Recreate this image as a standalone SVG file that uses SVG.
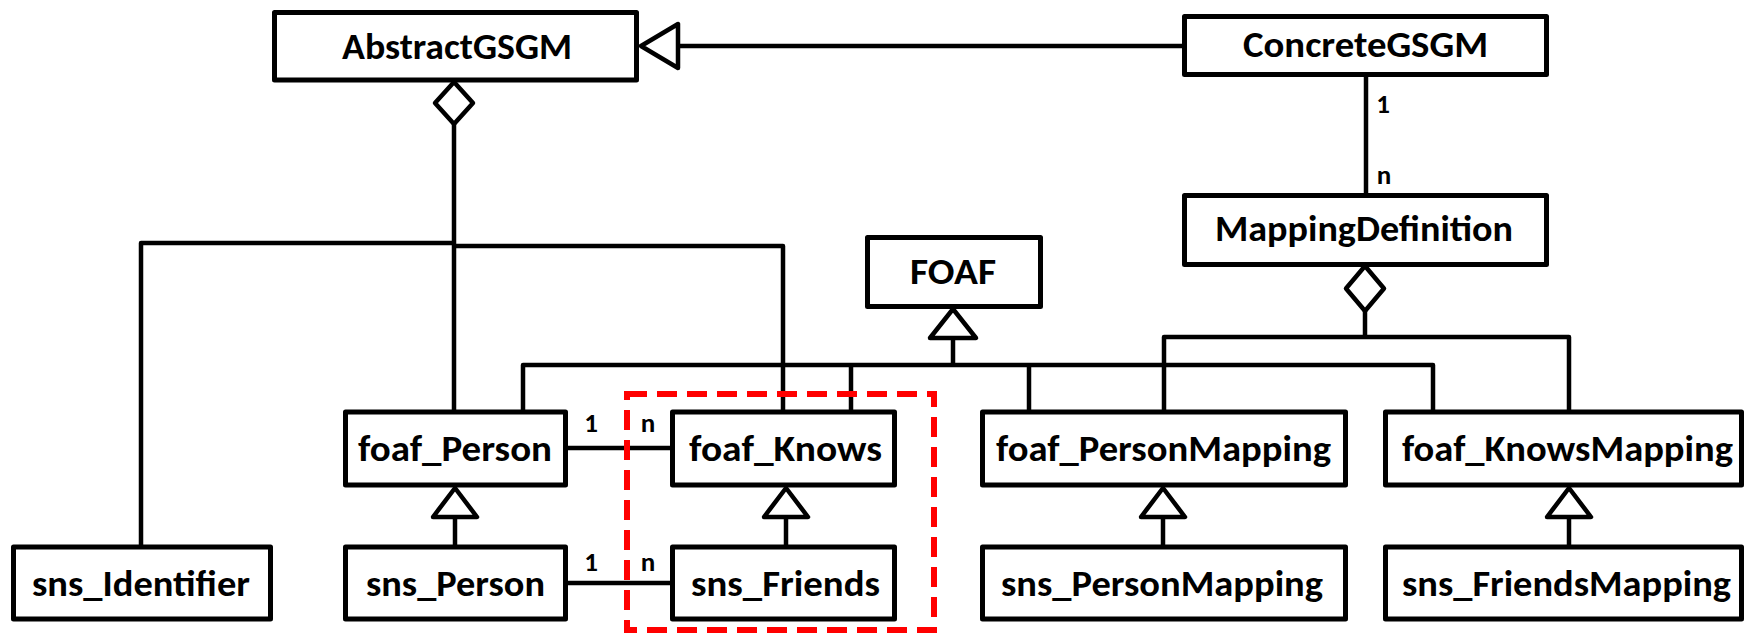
<svg xmlns="http://www.w3.org/2000/svg" width="1744" height="635" viewBox="0 0 1744 635">
  <style>
    .box { fill: #ffffff; stroke: #000000; stroke-width: 5; stroke-linejoin: round; }
    .lbl { font-family: Carlito, Calibri, Lato, "Open Sans", sans-serif; font-weight: bold; font-size: 37px; fill: #000000; text-anchor: middle; }
    .mult { font-family: Carlito, Calibri, Lato, "Open Sans", sans-serif; font-weight: bold; font-size: 27px; fill: #000000; text-anchor: middle; }
    .wire { fill: none; stroke: #000000; stroke-width: 4.5; stroke-linejoin: round; }
    .head { fill: #ffffff; stroke: #000000; stroke-width: 4.5; stroke-linejoin: round; }
    .focus { fill: none; stroke: #ff0000; stroke-width: 6; stroke-dasharray: 20 10; }
  </style>
  <rect width="1744" height="635" fill="#ffffff"/>

  <g id="connectors">
    <!-- ConcreteGSGM generalises AbstractGSGM -->
    <line class="wire" x1="1184" y1="46" x2="678" y2="46"/>
    <polygon class="head" points="641,46 678,24 678,68"/>

    <!-- ConcreteGSGM 1 - n MappingDefinition -->
    <line class="wire" x1="1366" y1="77" x2="1366" y2="195"/>
    <text class="mult" x="1383" y="113">1</text>
    <text class="mult" x="1384" y="184">n</text>

    <!-- AbstractGSGM aggregation -->
    <line class="wire" x1="454" y1="124" x2="454" y2="410"/>
    <polyline class="wire" points="141,545 141,243 454,243"/>
    <polyline class="wire" points="454,246 783,246 783,410"/>
    <polygon class="head" points="454,82 473,103 454,124 435,103"/>

    <!-- FOAF generalisation tree -->
    <line class="wire" x1="953" y1="338" x2="953" y2="365"/>
    <polyline class="wire" points="523,410 523,365 1433,365 1433,410"/>
    <line class="wire" x1="851" y1="365" x2="851" y2="410"/>
    <line class="wire" x1="1029" y1="365" x2="1029" y2="410"/>
    <polygon class="head" points="953,309 976,338 930,338"/>

    <!-- MappingDefinition aggregation -->
    <line class="wire" x1="1365" y1="311" x2="1365" y2="337"/>
    <polyline class="wire" points="1164,410 1164,337 1569,337 1569,410"/>
    <polygon class="head" points="1365,266 1384,288.5 1365,311 1346,288.5"/>

    <!-- associations between persons and relations -->
    <line class="wire" x1="568" y1="448" x2="670" y2="448"/>
    <text class="mult" x="591" y="432">1</text>
    <text class="mult" x="648" y="432">n</text>
    <line class="wire" x1="568" y1="583" x2="670" y2="583"/>
    <text class="mult" x="591" y="571">1</text>
    <text class="mult" x="648" y="571">n</text>

    <!-- specialisations of the lower row -->
    <line class="wire" x1="455" y1="517" x2="455" y2="545"/>
    <polygon class="head" points="455,488 477,517 433,517"/>
    <line class="wire" x1="786" y1="517" x2="786" y2="545"/>
    <polygon class="head" points="786,488 808,517 764,517"/>
    <line class="wire" x1="1163" y1="517" x2="1163" y2="545"/>
    <polygon class="head" points="1163,488 1185,517 1141,517"/>
    <line class="wire" x1="1569" y1="517" x2="1569" y2="545"/>
    <polygon class="head" points="1569,488 1591,517 1547,517"/>
  </g>

  <g id="AbstractGSGM">
    <rect class="box" x="274.5" y="12.5" width="362" height="67.5"/>
    <text class="lbl" x="457" y="59" textLength="230" lengthAdjust="spacingAndGlyphs">AbstractGSGM</text>
  </g>
  <g id="ConcreteGSGM">
    <rect class="box" x="1184.5" y="16.5" width="362" height="58"/>
    <text class="lbl" x="1365.5" y="57" textLength="245" lengthAdjust="spacingAndGlyphs">ConcreteGSGM</text>
  </g>
  <g id="MappingDefinition">
    <rect class="box" x="1184.5" y="195.5" width="362" height="69"/>
    <text class="lbl" x="1364" y="241" textLength="298" lengthAdjust="spacingAndGlyphs">MappingDefinition</text>
  </g>
  <g id="FOAF">
    <rect class="box" x="867.5" y="237.5" width="173" height="69"/>
    <text class="lbl" x="953" y="284" textLength="86" lengthAdjust="spacingAndGlyphs">FOAF</text>
  </g>
  <g id="foaf_Person">
    <rect class="box" x="345.5" y="412" width="220" height="73"/>
    <text class="lbl" x="455" y="461" textLength="194" lengthAdjust="spacingAndGlyphs">foaf_Person</text>
  </g>
  <g id="foaf_Knows">
    <rect class="box" x="672.5" y="412" width="222" height="73"/>
    <text class="lbl" x="785.5" y="461" textLength="193" lengthAdjust="spacingAndGlyphs">foaf_Knows</text>
  </g>
  <g id="foaf_PersonMapping">
    <rect class="box" x="982.5" y="412" width="363" height="73"/>
    <text class="lbl" x="1163.5" y="461" textLength="335" lengthAdjust="spacingAndGlyphs">foaf_PersonMapping</text>
  </g>
  <g id="foaf_KnowsMapping">
    <rect class="box" x="1385.5" y="412" width="356" height="73"/>
    <text class="lbl" x="1567.5" y="461" textLength="331" lengthAdjust="spacingAndGlyphs">foaf_KnowsMapping</text>
  </g>
  <g id="sns_Identifier">
    <rect class="box" x="13.5" y="547" width="257" height="72"/>
    <text class="lbl" x="141" y="596" textLength="218" lengthAdjust="spacingAndGlyphs">sns_Identifier</text>
  </g>
  <g id="sns_Person">
    <rect class="box" x="345.5" y="547" width="220" height="72"/>
    <text class="lbl" x="455.5" y="596" textLength="179" lengthAdjust="spacingAndGlyphs">sns_Person</text>
  </g>
  <g id="sns_Friends">
    <rect class="box" x="672.5" y="547" width="222" height="72"/>
    <text class="lbl" x="785.5" y="596" textLength="189" lengthAdjust="spacingAndGlyphs">sns_Friends</text>
  </g>
  <g id="sns_PersonMapping">
    <rect class="box" x="982.5" y="547" width="363" height="72"/>
    <text class="lbl" x="1162" y="596" textLength="322" lengthAdjust="spacingAndGlyphs">sns_PersonMapping</text>
  </g>
  <g id="sns_FriendsMapping">
    <rect class="box" x="1385.5" y="547" width="356" height="72"/>
    <text class="lbl" x="1566.5" y="596" textLength="329" lengthAdjust="spacingAndGlyphs">sns_FriendsMapping</text>
  </g>

  <!-- highlighted group around the knows / friends classes -->
  <rect id="knows-highlight" class="focus" x="627" y="394" width="307" height="236"/>
</svg>
